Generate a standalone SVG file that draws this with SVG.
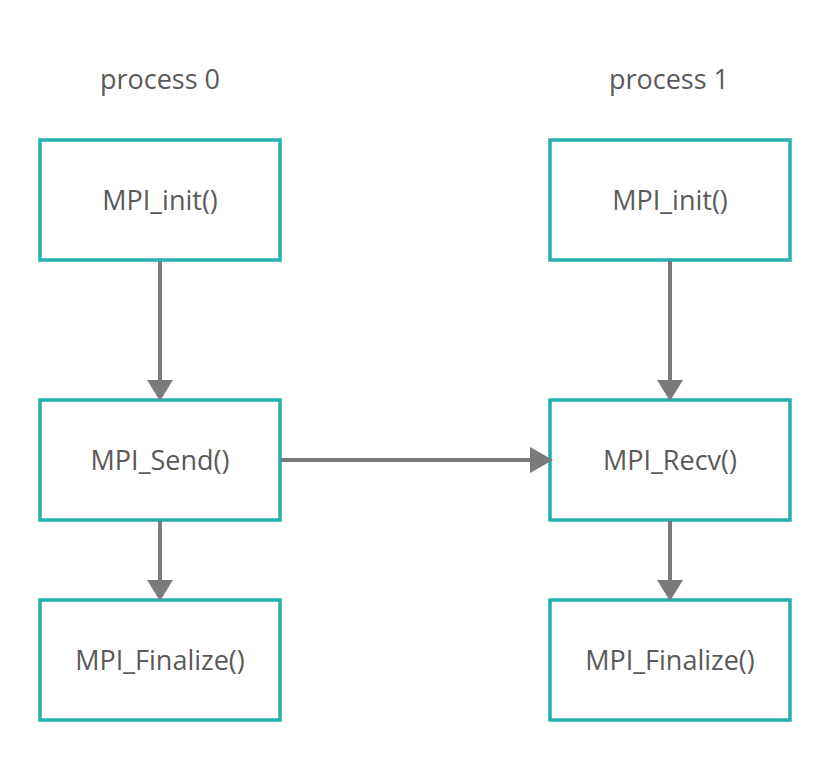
<svg xmlns="http://www.w3.org/2000/svg" width="830" height="760" viewBox="0 0 830 760">
<style>
.box{fill:#fff;stroke:#26b0ab;stroke-width:3.5}
.lbl{font-family:"Open Sans",sans-serif;font-size:27px;fill:#5a5a5a;text-anchor:middle}
.con{stroke:#7a7a7a;stroke-width:4;fill:none}
.head{fill:#7a7a7a}
</style>
<rect width="830" height="760" fill="#fff"/>
<text class="lbl" x="160" y="89">process 0</text>
<text class="lbl" x="669" y="89">process 1</text>
<g id="init0"><rect class="box" x="40" y="140" width="240" height="120"/><text class="lbl" x="160" y="210">MPI_init()</text></g>
<g id="send"><rect class="box" x="40" y="400" width="240" height="120"/><text class="lbl" x="160" y="470">MPI_Send()</text></g>
<g id="fin0"><rect class="box" x="40" y="600" width="240" height="120"/><text class="lbl" x="160" y="670">MPI_Finalize()</text></g>
<g id="init1"><rect class="box" x="550" y="140" width="240" height="120"/><text class="lbl" x="670" y="210">MPI_init()</text></g>
<g id="recv"><rect class="box" x="550" y="400" width="240" height="120"/><text class="lbl" x="670" y="470">MPI_Recv()</text></g>
<g id="fin1"><rect class="box" x="550" y="600" width="240" height="120"/><text class="lbl" x="670" y="670">MPI_Finalize()</text></g>
<g id="connectors">
<line class="con" x1="160" y1="261" x2="160" y2="382"/><polygon class="head" points="147,380 173,380 160,401"/>
<line class="con" x1="160" y1="521" x2="160" y2="582"/><polygon class="head" points="147,580 173,580 160,601"/>
<line class="con" x1="670" y1="261" x2="670" y2="382"/><polygon class="head" points="657,380 683,380 670,401"/>
<line class="con" x1="670" y1="521" x2="670" y2="582"/><polygon class="head" points="657,580 683,580 670,601"/>
<line class="con" x1="281" y1="460" x2="532" y2="460"/><polygon class="head" points="530,447 530,473 553,460"/>
</g>
</svg>
